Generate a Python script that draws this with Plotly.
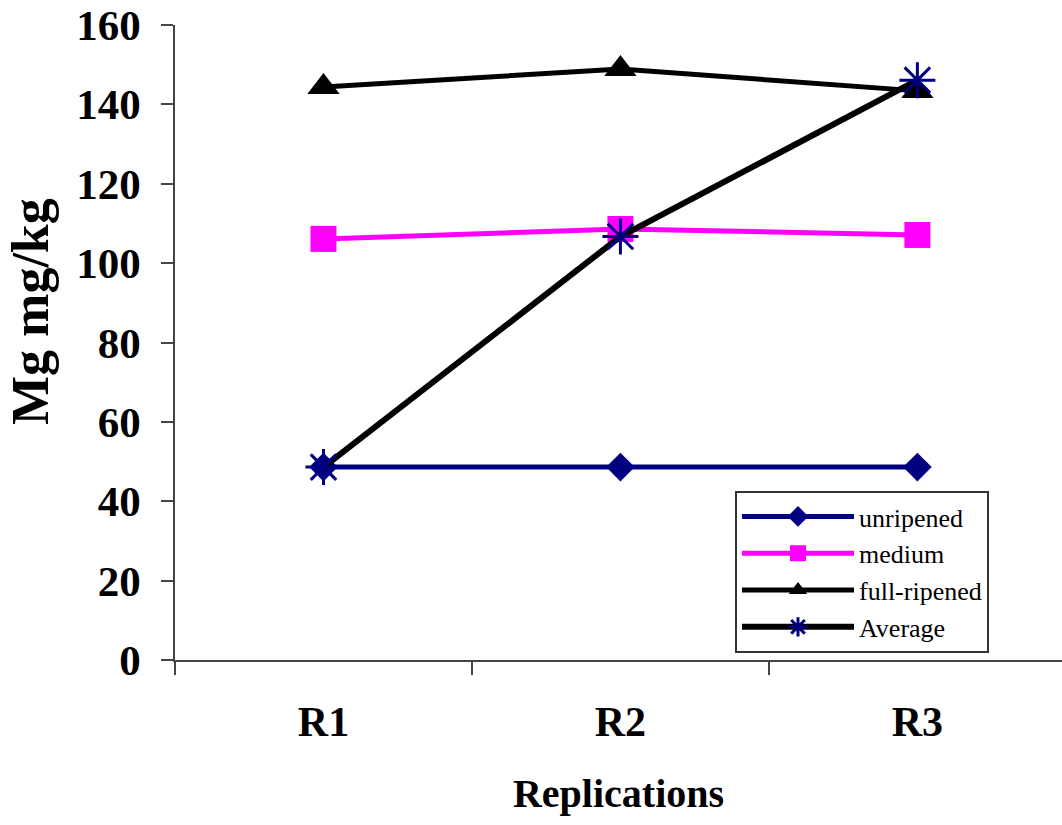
import plotly.graph_objects as go

categories = ["R1", "R2", "R3"]
unripened = [48.6, 48.6, 48.6]
medium = [106.1, 108.6, 107.1]
full_ripened = [144.4, 148.9, 143.4]
average = [48.6, 106.7, 146.1]
y_ticks = [0, 20, 40, 60, 80, 100, 120, 140, 160]

FONT = "Liberation Serif, Times New Roman, serif"

fig = go.Figure()
fig.add_trace(go.Scatter(x=categories, y=unripened, name="unripened", mode="lines+markers",
                         line=dict(color="#000080", width=5),
                         marker=dict(symbol="diamond", size=22, color="#000080")))
fig.add_trace(go.Scatter(x=categories, y=medium, name="medium", mode="lines+markers",
                         line=dict(color="#FF00FF", width=5),
                         marker=dict(symbol="square", size=26, color="#FF00FF")))
fig.add_trace(go.Scatter(x=categories, y=full_ripened, name="full-ripened", mode="lines+markers",
                         line=dict(color="#000000", width=5),
                         marker=dict(symbol="triangle-up", size=28, color="#000000")))
fig.add_trace(go.Scatter(x=categories, y=average, name="Average", mode="lines+markers",
                         line=dict(color="#000000", width=6),
                         marker=dict(symbol="asterisk-open", size=30, color="#000080",
                                     line=dict(color="#000080", width=3))))

W, H = 1062, 825
L, R, T, B = 175, 0, 25, 165
pw = W - L - R
ph = H - T - B

fig.update_layout(
    width=W, height=H,
    margin=dict(l=L, r=R, t=T, b=B),
    paper_bgcolor="white", plot_bgcolor="white",
    font=dict(family=FONT, color="black"),
    showlegend=True,
    legend=dict(
        x=(735 - L) / pw, y=(660 - 491) / ph, xanchor="left", yanchor="top",
        bgcolor="white", bordercolor="#333333", borderwidth=2,
        font=dict(family=FONT, size=26, color="black"),
        tracegroupgap=0, itemwidth=112,
    ),
    xaxis=dict(
        type="category", range=[-0.5, 2.487],
        tickson="boundaries", ticks="outside", ticklen=13, tickcolor="#444", tickwidth=1.5,
        showline=True, linecolor="#444", linewidth=1.5, showgrid=False, zeroline=False,
        tickfont=dict(family=FONT, size=42, color="black", weight="bold"),
        ticklabelstandoff=24,
        title=dict(text="<b>Replications</b>", font=dict(family=FONT, size=40, color="black"),
                   standoff=35),
    ),
    yaxis=dict(
        range=[0, 160], tickvals=y_ticks, ticks="outside", ticklen=12, tickcolor="#444", tickwidth=1.5,
        showline=True, linecolor="#444", linewidth=1.5, showgrid=False, zeroline=False,
        tickfont=dict(family=FONT, size=43, color="black", weight="bold"),
        ticklabelstandoff=12,
    ),
    annotations=[dict(
        text="<b>Mg mg/kg</b>", textangle=-90, xref="paper", yref="paper",
        x=-(L - 31) / pw, y=(660 - 312) / ph, xanchor="center", yanchor="middle",
        showarrow=False, font=dict(family=FONT, size=52, color="black"),
    )],
)

fig.write_html("out.html")
